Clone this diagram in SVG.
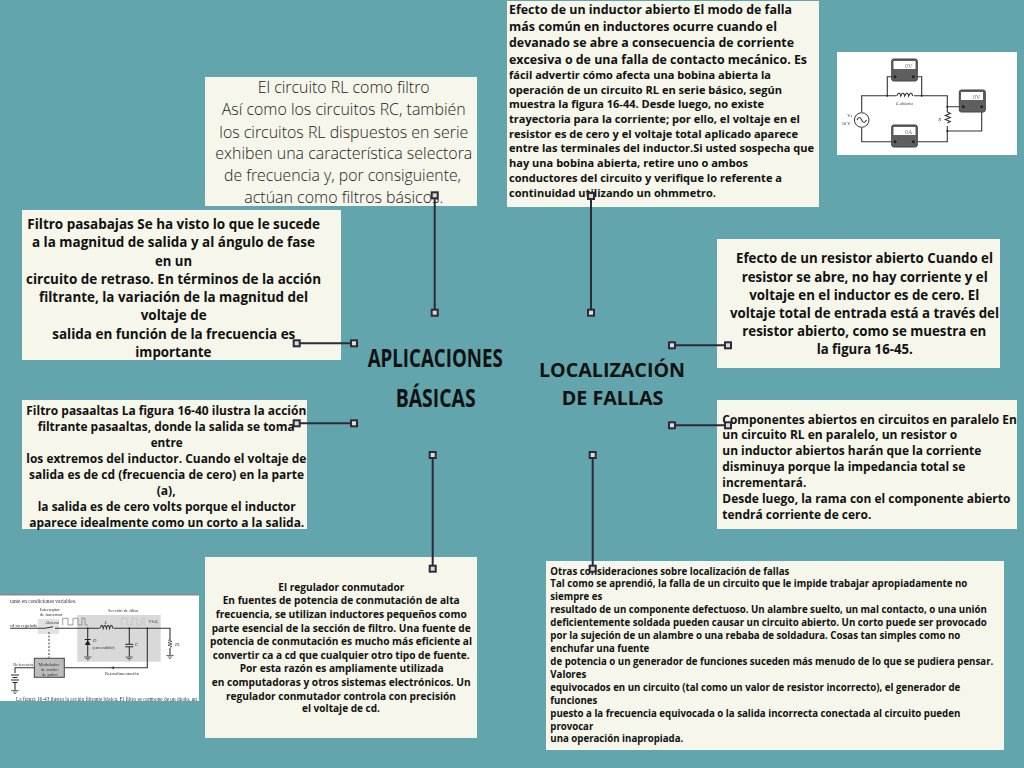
<svg xmlns="http://www.w3.org/2000/svg" width="1024" height="768" viewBox="0 0 1024 768">
<style>
.box{fill:#f6f6ea}
text{font-family:"Open Sans","DejaVu Sans",sans-serif;fill:#111;font-weight:700}
.l{font-weight:300;font-size:15.6px;fill:#222}
.c{fill:none;stroke:#2e2a3a;stroke-width:2}
.h{fill:#ddddd4;stroke:#2e2a3a;stroke-width:2}
.w{fill:none;stroke:#333;stroke-width:1.1}
.mt{fill:#5f5f5f;stroke:#444;stroke-width:1}
.tiny{font-family:"Liberation Serif",serif;font-weight:400;font-size:4.600px;fill:#333}
</style>
<defs>
<filter id="bl" x="-5%" y="-5%" width="110%" height="110%"><feGaussianBlur stdDeviation="0.5"/></filter>
<clipPath id="regclip"><rect x="0" y="594" width="199" height="107"/></clipPath>
</defs>
<rect width="1024" height="768" fill="#62a5ac"/>

<g id="node-rl-filtro"><rect class="box" x="205" y="77" width="272" height="129"/>
<text class="l"><tspan x="257.700" y="93" textLength="172" lengthAdjust="spacingAndGlyphs">El circuito RL como filtro</tspan><tspan x="221.700" y="115" textLength="244" lengthAdjust="spacingAndGlyphs">Así como los circuitos RC, también</tspan><tspan x="219.300" y="138" textLength="249" lengthAdjust="spacingAndGlyphs">los circuitos RL dispuestos en serie</tspan><tspan x="215.300" y="159" textLength="257" lengthAdjust="spacingAndGlyphs">exhiben una característica selectora</tspan><tspan x="224" y="181" textLength="237" lengthAdjust="spacingAndGlyphs">de frecuencia y, por consiguiente,</tspan><tspan x="244.300" y="203" textLength="199" lengthAdjust="spacingAndGlyphs">actúan como filtros básicos.</tspan></text></g>

<g id="node-inductor-abierto"><rect class="box" x="507" y="1" width="312" height="206"/>
<text style="font-size:12.400px"><tspan x="509" y="14" textLength="283" lengthAdjust="spacingAndGlyphs">Efecto de un inductor abierto El modo de falla</tspan><tspan x="509" y="31" textLength="268" lengthAdjust="spacingAndGlyphs">más común en inductores ocurre cuando el</tspan><tspan x="509" y="47" textLength="285" lengthAdjust="spacingAndGlyphs">devanado se abre a consecuencia de corriente</tspan><tspan x="509" y="64" textLength="298" lengthAdjust="spacingAndGlyphs">excesiva o de una falla de contacto mecánico. Es</tspan></text>
<text style="font-size:11.300px"><tspan x="509" y="79" textLength="262" lengthAdjust="spacingAndGlyphs">fácil advertir cómo afecta una bobina abierta la</tspan><tspan x="509" y="94" textLength="273" lengthAdjust="spacingAndGlyphs">operación de un circuito RL en serie básico, según</tspan><tspan x="509" y="108" textLength="255" lengthAdjust="spacingAndGlyphs">muestra la figura 16-44. Desde luego, no existe</tspan><tspan x="509" y="123" textLength="291" lengthAdjust="spacingAndGlyphs">trayectoria para la corriente; por ello, el voltaje en el</tspan><tspan x="509" y="138" textLength="289" lengthAdjust="spacingAndGlyphs">resistor es de cero y el voltaje total aplicado aparece</tspan><tspan x="509" y="152" textLength="305" lengthAdjust="spacingAndGlyphs">entre las terminales del inductor.Si usted sospecha que</tspan><tspan x="509" y="167" textLength="239" lengthAdjust="spacingAndGlyphs">hay una bobina abierta, retire uno o ambos</tspan><tspan x="509" y="182" textLength="273" lengthAdjust="spacingAndGlyphs">conductores del circuito y verifique lo referente a</tspan><tspan x="509" y="197" textLength="207" lengthAdjust="spacingAndGlyphs">continuidad utilizando un ohmmetro.</tspan></text></g>

<g id="node-circuito-img"><rect x="837" y="52" width="180" height="103" fill="#fff"/>
<g filter="url(#bl)">
<path class="w" d="M861.700 112V95.700H947.300V141.700H861.700V127.700M887.300 95.700V76.700H895M921.700 95.700V76.700H913.300M947.300 106.700H963.300M947.300 131H981.700V106.700"/>
<rect x="896" y="92" width="18" height="7" fill="#fff"/><rect x="945" y="112" width="5" height="14" fill="#fff"/>
<g class="mt"><rect x="891.700" y="59" width="25.600" height="22" rx="2"/><rect x="891.700" y="125" width="25.600" height="22" rx="2"/><rect x="959.300" y="90" width="26" height="22" rx="2"/></g>
<g fill="#fff"><rect x="893.500" y="61" width="22" height="8"/><rect x="893.500" y="127" width="22" height="8"/><rect x="961" y="92" width="22" height="8"/></g>
<g fill="#222"><circle cx="895" cy="76.700" r="1.500"/><circle cx="913.300" cy="76.700" r="1.500"/><circle cx="895" cy="141.700" r="1.500"/><circle cx="913.300" cy="141.700" r="1.500"/><circle cx="963.300" cy="106.700" r="1.500"/><circle cx="981.700" cy="106.700" r="1.500"/><circle cx="887.300" cy="95.700" r="1"/><circle cx="921.700" cy="95.700" r="1"/><circle cx="947.300" cy="106.700" r="1"/><circle cx="947.300" cy="131" r="1"/></g>
<circle cx="861.700" cy="120" r="7.300" fill="#fff" stroke="#333"/>
<path class="w" d="M857 120q2.300 -5 4.700 0t4.700 0M896.700 96q2.500 -6 4 0q2.500 -6 4 0q2.500 -6 4 0q2.500 -6 4 0M947.300 112l3 1.500l-5 2l5 2l-5 2l5 2l-3 1.500"/>
<text class="tiny" x="896" y="105" font-style="italic">L abierta</text>
<text class="tiny" x="847.300" y="117">V<tspan font-size="3.500">s</tspan></text><text class="tiny" x="841.700" y="125">10 V</text><text class="tiny" x="938.300" y="121" font-style="italic">R</text>
<text class="tiny" x="905" y="67.500" style="font-size:6px;fill:#777">0V</text><text class="tiny" x="973" y="98.500" style="font-size:6px;fill:#777">0V</text><text class="tiny" x="905" y="133.500" style="font-size:6px;fill:#777">0A</text>
</g></g>

<g id="node-pasabajas"><rect class="box" x="22" y="210" width="319" height="150"/>
<text style="font-size:13.400px"><tspan x="27.300" y="229" textLength="292.700" lengthAdjust="spacingAndGlyphs">Filtro pasabajas Se ha visto lo que le sucede</tspan><tspan x="32" y="247" textLength="283" lengthAdjust="spacingAndGlyphs">a la magnitud de salida y al ángulo de fase</tspan><tspan x="155" y="266" textLength="37" lengthAdjust="spacingAndGlyphs">en un</tspan><tspan x="26" y="284" textLength="295" lengthAdjust="spacingAndGlyphs">circuito de retraso. En términos de la acción</tspan><tspan x="39" y="302" textLength="269" lengthAdjust="spacingAndGlyphs">filtrante, la variación de la magnitud del</tspan><tspan x="140.700" y="320" textLength="66" lengthAdjust="spacingAndGlyphs">voltaje de</tspan><tspan x="52.300" y="339" textLength="243" lengthAdjust="spacingAndGlyphs">salida en función de la frecuencia es</tspan><tspan x="135.300" y="357" textLength="76" lengthAdjust="spacingAndGlyphs">importante</tspan></text></g>

<g id="node-resistor-abierto"><rect class="box" x="717" y="239" width="283" height="129"/>
<text style="font-size:13.300px"><tspan x="736" y="263" textLength="257" lengthAdjust="spacingAndGlyphs">Efecto de un resistor abierto Cuando el</tspan><tspan x="741.700" y="282" textLength="246" lengthAdjust="spacingAndGlyphs">resistor se abre, no hay corriente y el</tspan><tspan x="749.300" y="300" textLength="230" lengthAdjust="spacingAndGlyphs">voltaje en el inductor es de cero. El</tspan><tspan x="730" y="318" textLength="269" lengthAdjust="spacingAndGlyphs">voltaje total de entrada está a través del</tspan><tspan x="742.300" y="336" textLength="244" lengthAdjust="spacingAndGlyphs">resistor abierto, como se muestra en</tspan><tspan x="816.700" y="354" textLength="96" lengthAdjust="spacingAndGlyphs">la figura 16-45.</tspan></text></g>

<g id="node-pasaaltas"><rect class="box" x="22" y="400" width="285" height="129"/>
<text style="font-size:12px"><tspan x="26.300" y="415" textLength="280" lengthAdjust="spacingAndGlyphs">Filtro pasaaltas La figura 16-40 ilustra la acción</tspan><tspan x="37.700" y="431" textLength="257" lengthAdjust="spacingAndGlyphs">filtrante pasaaltas, donde la salida se toma</tspan><tspan x="150.700" y="447" textLength="32" lengthAdjust="spacingAndGlyphs">entre</tspan><tspan x="26.300" y="463" textLength="280" lengthAdjust="spacingAndGlyphs">los extremos del inductor. Cuando el voltaje de</tspan><tspan x="29" y="479" textLength="275" lengthAdjust="spacingAndGlyphs">salida es de cd (frecuencia de cero) en la parte</tspan><tspan x="156.700" y="495" textLength="19" lengthAdjust="spacingAndGlyphs">(a),</tspan><tspan x="37.700" y="511" textLength="258" lengthAdjust="spacingAndGlyphs">la salida es de cero volts porque el inductor</tspan><tspan x="29.300" y="527" textLength="275" lengthAdjust="spacingAndGlyphs">aparece idealmente como un corto a la salida.</tspan></text></g>

<g id="node-paralelo"><rect class="box" x="717" y="400" width="300" height="129"/>
<text style="font-size:11.900px"><tspan x="722.300" y="424" textLength="294.500" lengthAdjust="spacingAndGlyphs">Componentes abiertos en circuitos en paralelo En</tspan></text>
<text style="font-size:12.400px"><tspan x="722.300" y="439" textLength="235" lengthAdjust="spacingAndGlyphs">un circuito RL en paralelo, un resistor o</tspan><tspan x="722.300" y="455" textLength="259" lengthAdjust="spacingAndGlyphs">un inductor abiertos harán que la corriente</tspan><tspan x="722.300" y="471" textLength="243" lengthAdjust="spacingAndGlyphs">disminuya porque la impedancia total se</tspan><tspan x="722.300" y="487" textLength="84" lengthAdjust="spacingAndGlyphs">incrementará.</tspan><tspan x="722.300" y="503" textLength="288" lengthAdjust="spacingAndGlyphs">Desde luego, la rama con el componente abierto</tspan><tspan x="722.300" y="519" textLength="149" lengthAdjust="spacingAndGlyphs">tendrá corriente de cero.</tspan></text></g>

<g id="node-conmutador"><rect class="box" x="205" y="557" width="272" height="181"/>
<text style="font-size:10.400px"><tspan x="278.300" y="591" textLength="126" lengthAdjust="spacingAndGlyphs">El regulador conmutador</tspan><tspan x="222.700" y="604" textLength="237" lengthAdjust="spacingAndGlyphs">En fuentes de potencia de conmutación de alta</tspan><tspan x="215.700" y="618" textLength="251" lengthAdjust="spacingAndGlyphs">frecuencia, se utilizan inductores pequeños como</tspan><tspan x="211.700" y="632" textLength="259" lengthAdjust="spacingAndGlyphs">parte esencial de la sección de filtro. Una fuente de</tspan><tspan x="210" y="645" textLength="262" lengthAdjust="spacingAndGlyphs">potencia de conmutación es mucho más eficiente al</tspan><tspan x="212.700" y="659" textLength="257" lengthAdjust="spacingAndGlyphs">convertir ca a cd que cualquier otro tipo de fuente.</tspan><tspan x="239.700" y="672" textLength="204" lengthAdjust="spacingAndGlyphs">Por esta razón es ampliamente utilizada</tspan><tspan x="211.700" y="686" textLength="259" lengthAdjust="spacingAndGlyphs">en computadoras y otros sistemas electrónicos. Un</tspan><tspan x="226" y="700" textLength="230" lengthAdjust="spacingAndGlyphs">regulador conmutador controla con precisión</tspan><tspan x="302" y="712" textLength="78" lengthAdjust="spacingAndGlyphs">el voltaje de cd.</tspan></text></g>

<g id="node-otras"><rect class="box" x="546" y="561" width="458" height="189"/>
<text style="font-size:9.700px"><tspan x="550.300" y="575" textLength="239" lengthAdjust="spacingAndGlyphs">Otras consideraciones sobre localización de fallas</tspan><tspan x="550.300" y="587" textLength="417" lengthAdjust="spacingAndGlyphs">Tal como se aprendió, la falla de un circuito que le impide trabajar apropiadamente no</tspan><tspan x="550.300" y="600" textLength="52" lengthAdjust="spacingAndGlyphs">siempre es</tspan><tspan x="550.300" y="613" textLength="436.500" lengthAdjust="spacingAndGlyphs">resultado de un componente defectuoso. Un alambre suelto, un mal contacto, o una unión</tspan><tspan x="550.300" y="626" textLength="436.500" lengthAdjust="spacingAndGlyphs">deficientemente soldada pueden causar un circuito abierto. Un corto puede ser provocado</tspan><tspan x="550.300" y="639" textLength="410" lengthAdjust="spacingAndGlyphs">por la sujeción de un alambre o una rebaba de soldadura. Cosas tan simples como no</tspan><tspan x="550.300" y="652" textLength="99" lengthAdjust="spacingAndGlyphs">enchufar una fuente</tspan><tspan x="550.300" y="665" textLength="443" lengthAdjust="spacingAndGlyphs">de potencia o un generador de funciones suceden más menudo de lo que se pudiera pensar.</tspan><tspan x="550.300" y="678" textLength="36" lengthAdjust="spacingAndGlyphs">Valores</tspan><tspan x="550.300" y="691" textLength="410" lengthAdjust="spacingAndGlyphs">equivocados en un circuito (tal como un valor de resistor incorrecto), el generador de</tspan><tspan x="550.300" y="704" textLength="47" lengthAdjust="spacingAndGlyphs">funciones</tspan><tspan x="550.300" y="717" textLength="410" lengthAdjust="spacingAndGlyphs">puesto a la frecuencia equivocada o la salida incorrecta conectada al circuito pueden</tspan><tspan x="550.300" y="730" textLength="43" lengthAdjust="spacingAndGlyphs">provocar</tspan><tspan x="550.300" y="742" textLength="133" lengthAdjust="spacingAndGlyphs">una operación inapropiada.</tspan></text></g>

<g id="node-regulador-img" clip-path="url(#regclip)"><rect x="0" y="594" width="199" height="107" fill="#fff"/>
<g filter="url(#bl)">
<rect x="0" y="594" width="199" height="1.500" fill="#888"/>
<rect x="77.300" y="615" width="83.400" height="46.700" fill="#d9d9d9"/>
<rect x="37.700" y="619" width="21.300" height="15" fill="#e2e2e2"/>
<path class="w" d="M10 628.300H45L53 626.700M55 628.300H170V640M170 648V655M87.700 628.300V656.700M129.300 628.300V644.300M129.300 647V656.700M147.300 628.300V667.700H64.300M34.300 667.700H15V673M15 683V690"/>
<path d="M49 632V658" fill="none" stroke="#444" stroke-dasharray="2 1.500"/>
<path d="M62.700 625V618.300H68V625H73V618.300H78V625H82V618.300H85V625H88" fill="none" stroke="#777" stroke-width=".7"/>
<path d="M121.700 625V618.300H127V625H132V618.300H137V625H141V618.300H144V625H146.700" fill="none" stroke="#bbb" stroke-width=".7"/>
<rect x="34.300" y="658.300" width="30" height="19" fill="#bcbcbc" stroke="#444"/>
<rect x="99.500" y="625" width="14" height="6" fill="#d9d9d9"/>
<path class="w" d="M100 628.300q2 -6 3.200 0q2 -6 3.200 0q2 -6 3.200 0q2 -6 3.200 0"/>
<path d="M84.700 645h6l-3 -5z" fill="#222"/><path d="M84.700 639.500h6M125.300 644.300h8M125.300 646.800h8M11 675h8M12.500 677.500h5M11 680h8M12.500 682.500h5" stroke="#222" fill="none"/>
<path d="M84 657h7.400M85.500 658.500h4.400M86.800 660h1.800M125.600 657h7.400M127 658.500h4.400M128.400 660h1.800M166.300 655.500h7.400M167.800 657h4.400M169 658.500h1.800M11.300 690.500h7.400M12.800 692h4.400M14 693.500h1.800" stroke="#333" fill="none" stroke-width=".7"/>
<path d="M168 640l4 1.300-4 1.300 4 1.300-4 1.300 4 1.300-2 1" fill="none" stroke="#333" stroke-width=".7"/>
<path d="M111 667.700l3 -1.500v3z" fill="#333"/>
<circle cx="87.700" cy="628.300" r=".9" fill="#222"/><circle cx="129.300" cy="628.300" r=".9" fill="#222"/><circle cx="147.300" cy="628.300" r=".9" fill="#222"/>
<text class="tiny" x="10" y="602.500" style="font-size:5.400px">tante en condiciones variables.</text>
<text class="tiny" x="40" y="611">Interruptor</text><text class="tiny" x="40" y="616">de transistor</text><text class="tiny" x="45" y="623.500">Abierto</text>
<text class="tiny" x="108" y="611.500">Sección de filtro</text>
<text class="tiny" x="10" y="627">cd no regulada</text>
<text class="tiny" x="104.500" y="624" font-style="italic">L</text><text class="tiny" x="148.500" y="623">V<tspan font-size="3.500">SAL</tspan></text>
<text class="tiny" x="93" y="642" font-style="italic">D</text><text class="tiny" x="92.500" y="648.500">(encendido)</text><text class="tiny" x="135" y="646" font-style="italic">C</text><text class="tiny" x="175" y="646" font-style="italic">R<tspan font-size="3.500">L</tspan></text>
<text class="tiny" x="13.300" y="665.500">Referencia</text>
<text class="tiny" x="38.500" y="665.500">Modulador</text><text class="tiny" x="41" y="671">de ancho</text><text class="tiny" x="42" y="676">de pulso</text>
<text class="tiny" x="105" y="674.500">Retroalimentación</text>
<text class="tiny" x="16" y="700.500" textLength="181" lengthAdjust="spacingAndGlyphs" style="font-size:5.400px">La figura 16-43 ilustra la acción filtrante básica. El filtro se compone de un diodo, un</text>
</g></g>

<g id="node-aplicaciones"><text style="font-size:25.600px"><tspan x="367.700" y="366.700" textLength="135" lengthAdjust="spacingAndGlyphs">APLICACIONES</tspan><tspan x="395.700" y="406.700" textLength="80" lengthAdjust="spacingAndGlyphs">BÁSICAS</tspan></text></g>
<g id="node-localizacion"><text style="font-size:20px;font-weight:700"><tspan x="539" y="377" textLength="146" lengthAdjust="spacingAndGlyphs">LOCALIZACIÓN</tspan><tspan x="561.700" y="405" textLength="101.700" lengthAdjust="spacingAndGlyphs">DE FALLAS</tspan></text></g>

<g id="connectors">
<path class="c" d="M434.700 195.300V312.700M591 196V312.700M296.700 343.300H354M672 345.300H728M296.700 423.300H354M672 425.300H728M432.700 455V568.700M592.700 455V568.700"/>
<g class="h"><rect x="431.700" y="192.300" width="6" height="6"/><rect x="431.700" y="309.700" width="6" height="6"/><rect x="588" y="193" width="6" height="6"/><rect x="588" y="309.700" width="6" height="6"/>
<rect x="293.700" y="340.300" width="6" height="6"/><rect x="351" y="340.300" width="6" height="6"/><rect x="669" y="342.300" width="6" height="6"/><rect x="725" y="342.300" width="6" height="6"/>
<rect x="293.700" y="420.300" width="6" height="6"/><rect x="351" y="420.300" width="6" height="6"/><rect x="669" y="422.300" width="6" height="6"/><rect x="725" y="422.300" width="6" height="6"/>
<rect x="429.700" y="452" width="6" height="6"/><rect x="429.700" y="565.700" width="6" height="6"/><rect x="589.700" y="452" width="6" height="6"/><rect x="589.700" y="565.700" width="6" height="6"/></g>
</g>
</svg>
